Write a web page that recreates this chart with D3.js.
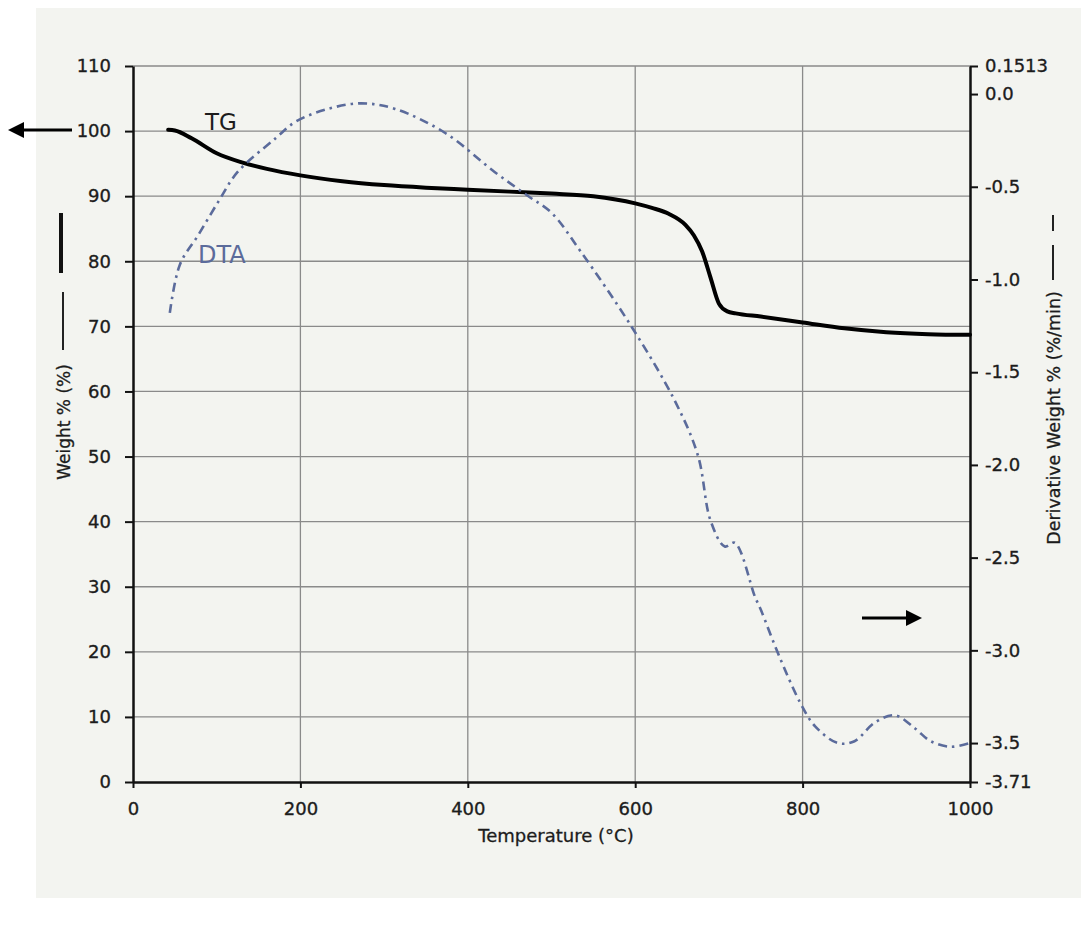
<!DOCTYPE html>
<html>
<head>
<meta charset="utf-8">
<script src="https://cdn.jsdelivr.net/npm/d3@7"></script>
<style>
  body { margin: 0; background: #fff; }
  svg { display: block; font-family: "DejaVu Sans", sans-serif; }
</style>
</head>
<body>
<svg id="chart" width="1081" height="925"></svg>
<script>
// TG curve: weight % vs temperature
const tgTemp = [42, 50, 70, 100, 130, 160, 200, 250, 300, 350, 400, 450, 500, 550, 600, 620, 640, 660, 670, 680, 690, 700, 710, 720, 750, 800, 850, 900, 950, 1000];
const tgWeight = [100.2, 100.1, 98.9, 96.6, 95.2, 94.2, 93.2, 92.3, 91.7, 91.3, 91.0, 90.7, 90.4, 90.0, 88.9, 88.2, 87.3, 85.6, 84.0, 81.5, 77.5, 73.5, 72.3, 72.0, 71.5, 70.6, 69.7, 69.1, 68.8, 68.7];

// DTA curve: derivative weight (%/min) vs temperature
const dtaTemp = [44, 56, 78, 102, 125, 170, 194, 233, 273, 313, 373, 432, 472, 500, 535, 595, 648, 675, 690, 707, 719, 743, 750, 771, 798, 815, 842, 862, 886, 910, 934, 953, 977, 1000];
const dtaDeriv = [-1.18, -0.92, -0.76, -0.58, -0.42, -0.24, -0.15, -0.08, -0.05, -0.08, -0.21, -0.42, -0.55, -0.64, -0.85, -1.25, -1.66, -1.95, -2.30, -2.44, -2.42, -2.71, -2.78, -3.02, -3.29, -3.41, -3.50, -3.49, -3.39, -3.35, -3.42, -3.49, -3.52, -3.50];

const xTicks = [0, 200, 400, 600, 800, 1000];
const leftTicks = [0, 10, 20, 30, 40, 50, 60, 70, 80, 90, 100, 110];
const rightTicks = [0.1513, 0.0, -0.5, -1.0, -1.5, -2.0, -2.5, -3.0, -3.5, -3.71];
const rightLabels = ["0.1513", "0.0", "-0.5", "-1.0", "-1.5", "-2.0", "-2.5", "-3.0", "-3.5", "-3.71"];

const plotLeft = 133, plotRight = 970, plotTop = 66, plotBottom = 782;
const ink = "#1c1c1c";
const dtaColor = "#5b6b9b";

const svg = d3.select("#chart");

// paper background
svg.append("rect").attr("x", 0).attr("y", 0).attr("width", 1081).attr("height", 925).attr("fill", "#fff");
svg.append("rect").attr("x", 36).attr("y", 8).attr("width", 1045).attr("height", 890).attr("fill", "#f3f4f0");

const x = d3.scaleLinear().domain([0, 1000]).range([plotLeft, plotRight]);
const yL = d3.scaleLinear().domain([0, 110]).range([plotBottom, plotTop]);
const yR = d3.scaleLinear().domain([-3.71, 0.1513]).range([plotBottom, plotTop]);

// grid
svg.append("g")
    .selectAll("line")
    .data(leftTicks.filter(d => d > 0))
    .enter().append("line")
    .attr("x1", plotLeft).attr("x2", plotRight)
    .attr("y1", d => yL(d)).attr("y2", d => yL(d))
    .attr("stroke", "#8a8a8a").attr("stroke-width", 1.3);

svg.append("g")
    .selectAll("line")
    .data(xTicks.filter(d => d > 0 && d < 1000))
    .enter().append("line")
    .attr("x1", d => x(d)).attr("x2", d => x(d))
    .attr("y1", plotTop).attr("y2", plotBottom)
    .attr("stroke", "#8a8a8a").attr("stroke-width", 1.3);

// axes
const xAxis = svg.append("g")
    .attr("transform", `translate(0,${plotBottom})`)
    .call(d3.axisBottom(x).tickValues(xTicks).tickFormat(d3.format("d")).tickSize(6).tickPadding(14).tickSizeOuter(0));

const leftAxis = svg.append("g")
    .attr("transform", `translate(${plotLeft},0)`)
    .call(d3.axisLeft(yL).tickValues(leftTicks).tickSize(8).tickPadding(14).tickSizeOuter(0));

const rightAxis = svg.append("g")
    .attr("transform", `translate(${plotRight},0)`)
    .call(d3.axisRight(yR).tickValues(rightTicks).tickFormat((d, i) => rightLabels[i]).tickSize(8).tickPadding(7).tickSizeOuter(0));

[xAxis, leftAxis, rightAxis].forEach(a => {
    a.select(".domain").attr("stroke", "#111").attr("stroke-width", 2.5);
    a.selectAll(".tick line").attr("stroke", "#111").attr("stroke-width", 2);
    a.selectAll(".tick text").attr("font-size", 18).attr("fill", ink)
        .attr("stroke", ink).attr("stroke-width", 0.35)
        .attr("font-family", "'DejaVu Sans', sans-serif");
});

// TG line
const tgData = tgTemp.map((t, i) => [t, tgWeight[i]]);
svg.append("path")
    .datum(tgData)
    .attr("fill", "none")
    .attr("stroke", "#000")
    .attr("stroke-width", 4)
    .attr("stroke-linejoin", "round")
    .attr("stroke-linecap", "round")
    .attr("d", d3.line().x(d => x(d[0])).y(d => yL(d[1])).curve(d3.curveMonotoneX));

// DTA line
const dtaData = dtaTemp.map((t, i) => [t, dtaDeriv[i]]);
svg.append("path")
    .datum(dtaData)
    .attr("fill", "none")
    .attr("stroke", dtaColor)
    .attr("stroke-width", 2.6)
    .attr("stroke-dasharray", "9,5,2.5,5")
    .attr("d", d3.line().x(d => x(d[0])).y(d => yR(d[1])).curve(d3.curveCatmullRom));

// series labels
svg.append("text").attr("x", 205).attr("y", 130).attr("font-size", 23).attr("fill", ink).text("TG");
svg.append("text").attr("x", 198).attr("y", 263).attr("font-size", 24).attr("fill", dtaColor).text("DTA");

// axis titles
svg.append("text")
    .attr("x", 556).attr("y", 842)
    .attr("text-anchor", "middle").attr("font-size", 18).attr("fill", ink)
    .attr("stroke", ink).attr("stroke-width", 0.3)
    .text("Temperature (°C)");

svg.append("text")
    .attr("transform", "translate(70,422) rotate(-90)")
    .attr("text-anchor", "middle").attr("font-size", 17).attr("fill", ink)
    .attr("stroke", ink).attr("stroke-width", 0.3)
    .text("Weight % (%)");

svg.append("text")
    .attr("transform", "translate(1060,418) rotate(-90)")
    .attr("text-anchor", "middle").attr("font-size", 17.5).attr("fill", ink)
    .attr("stroke", ink).attr("stroke-width", 0.3)
    .text("Derivative Weight % (%/min)");

// legend strokes next to axis titles
svg.append("line").attr("x1", 61).attr("x2", 61).attr("y1", 213).attr("y2", 273)
    .attr("stroke", "#111").attr("stroke-width", 4);
svg.append("line").attr("x1", 63).attr("x2", 63).attr("y1", 292).attr("y2", 350)
    .attr("stroke", "#222").attr("stroke-width", 2);
svg.append("line").attr("x1", 1053).attr("x2", 1053).attr("y1", 215).attr("y2", 231)
    .attr("stroke", "#222").attr("stroke-width", 2);
svg.append("line").attr("x1", 1053).attr("x2", 1053).attr("y1", 245).attr("y2", 280)
    .attr("stroke", "#222").attr("stroke-width", 2);

// arrows
function arrow(x1, x2, y) {
    const dir = Math.sign(x2 - x1);
    svg.append("line").attr("x1", x1).attr("x2", x2 - dir * 12).attr("y1", y).attr("y2", y)
        .attr("stroke", "#000").attr("stroke-width", 3);
    svg.append("path")
        .attr("d", `M${x2},${y} L${x2 - dir * 16},${y - 8} L${x2 - dir * 16},${y + 8} Z`)
        .attr("fill", "#000");
}
arrow(72, 8, 130);
arrow(862, 922, 618);
</script>
</body>
</html>
